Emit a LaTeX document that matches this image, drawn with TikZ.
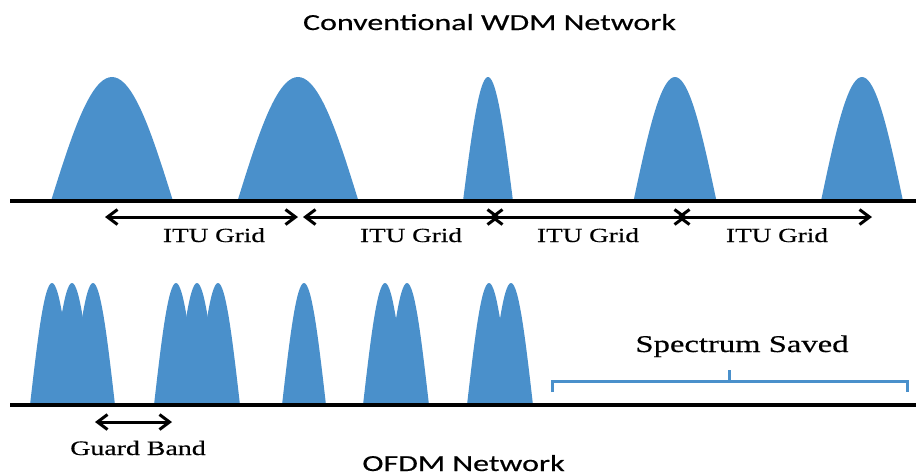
\documentclass[tikz,border=0pt]{standalone}
\usepackage{fontspec}
\usepackage{xcolor}
\usetikzlibrary{arrows.meta}
\newfontfamily\headfont[FakeStretch=1.39, FakeBold=0.4]{Carlito}
\newfontfamily\labfont[FakeStretch=1.36, FakeBold=0.5]{Liberation Serif}
\definecolor{sinalazul}{RGB}{74,144,203}
\tikzset{
    portadora/.style={fill=sinalazul},
    eixo/.style={draw=black, line width=3.4pt},
    grade/.style={line width=3pt, {Straight Barb[length=10pt,width=15pt]}-{Straight Barb[length=10pt,width=15pt]}},
    titulo/.style={font=\headfont\fontsize{23}{27}\selectfont, anchor=base, inner sep=0pt},
    rotulo/.style={font=\labfont\fontsize{20}{24}\selectfont, anchor=base, inner sep=0pt},
    chave/.style={draw=sinalazul, line width=3pt}
}

\begin{document}
\begin{tikzpicture}[x=1pt, y=-1pt]
    \useasboundingbox (0,0) rectangle (916,475);

    % Rede WDM convencional
    \node[titulo] (wdm) at (489.5,30) {Conventional WDM Network};
    \foreach \c/\w in {112/61, 298/60.5, 488/25, 675/41.5, 862/41}
        \fill[portadora] plot[domain=-1:1, samples=41, smooth]
            ({\c+\w*\x}, {201-124*cos(90*\x)}) -- cycle;
    \draw[eixo] (10,201) -- (916,201);

    % Grade ITU
    \coordinate (g0) at (105,217);
    \coordinate (g1) at (298,217);
    \coordinate (g2) at (303,217);
    \coordinate (g3) at (500,217);
    \coordinate (g4) at (490,217);
    \coordinate (g5) at (687,217);
    \coordinate (g6) at (677,217);
    \coordinate (g7) at (872,217);
    \draw[grade] (g0) -- (g1);
    \draw[grade] (g2) -- (g3);
    \draw[grade] (g4) -- (g5);
    \draw[grade] (g6) -- (g7);
    \node[rotulo] (itu1) at (214,242) {ITU Grid};
    \node[rotulo] (itu2) at (411,242) {ITU Grid};
    \node[rotulo] (itu3) at (588,242) {ITU Grid};
    \node[rotulo] (itu4) at (777,242) {ITU Grid};

    % Rede OFDM
    \foreach \c in {52,72,93,176,197,218,304,385,407,489,511}
        \fill[portadora] plot[domain=-1:1, samples=31, smooth]
            ({\c+22*\x}, {405-122*cos(90*\x)}) -- cycle;
    \draw[eixo] (10,405) -- (916,405);

    % Banda de guarda
    \coordinate (b0) at (95,422);
    \coordinate (b1) at (172,422);
    \draw[grade] (b0) -- (b1);
    \node[rotulo, font=\labfont\fontsize{20.5}{24}\selectfont] (guarda) at (138,455) {Guard Band};

    % Espectro economizado
    \draw[chave] (552,392) -- (552,381) -- (907,381) -- (907,392);
    \draw[chave] (729.5,381) -- (729.5,370);
    \node[rotulo, font=\labfont\fontsize{24}{28}\selectfont] (poupado) at (742,352) {Spectrum Saved};

    \node[titulo] (ofdm) at (463.5,471) {OFDM Network};
\end{tikzpicture}
\end{document}
